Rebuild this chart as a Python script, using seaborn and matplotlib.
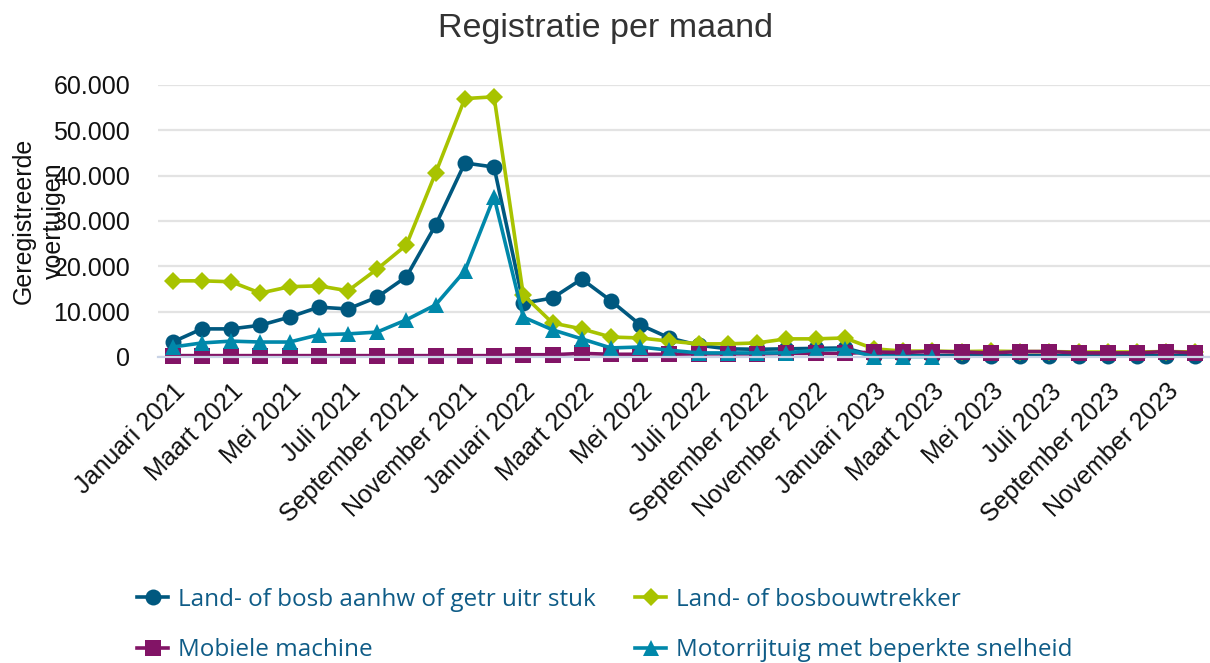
import numpy as np
import pandas as pd
import matplotlib
matplotlib.use("Agg")
import matplotlib.pyplot as plt
import matplotlib.ticker as mticker
import seaborn as sns

maanden = ["Januari", "Februari", "Maart", "April", "Mei", "Juni", "Juli",
           "Augustus", "September", "Oktober", "November", "December"]
jaren = [2021, 2022, 2023]
periodes = [f"{m} {j}" for j in jaren for m in maanden]

aanhw = [3300, 6200, 6200, 7000, 8800, 11000, 10600, 13200, 17700, 29100, 42800, 41900,
         11900, 13000, 17200, 12400, 7100, 4200, 2600, 1800, 1700, 1800, 1900, 2000,
         300, 300, 300, 300, 300, 300, 300, 300, 300, 300, 300, 300]
trekker = [16800, 16800, 16600, 14100, 15500, 15700, 14600, 19400, 24700, 40600, 57000, 57400,
           13700, 7500, 6200, 4400, 4200, 3500, 2900, 2900, 3100, 4000, 4000, 4200,
           1800, 1300, 1300, 1200, 1300, 1200, 1200, 1100, 1100, 1100, 1200, 1100]
mobiel = [300, 300, 300, 300, 300, 300, 300, 300, 300, 300, 300, 300,
          500, 500, 800, 600, 600, 600, 700, 700, 700, 800, 800, 800,
          1100, 1000, 1200, 1100, 900, 1200, 1200, 900, 900, 900, 1200, 900]
motor = [2200, 3100, 3500, 3300, 3300, 4900, 5100, 5500, 8200, 11500, 19000, 35300,
         8800, 6000, 4000, 2000, 2200, 1500, 900, 900, 900, 900, 1500, 1700,
         100, 100, 100, np.nan, np.nan, np.nan, np.nan, np.nan, np.nan, np.nan, np.nan, np.nan]

reeksen = ["Land- of bosb aanhw of getr uitr stuk", "Land- of bosbouwtrekker",
           "Mobiele machine", "Motorrijtuig met beperkte snelheid"]
kleuren = ["#00587F", "#A8C300", "#821466", "#0088AA"]
markers = ["o", "D", "s", "^"]
marker_sizes = [11.5, 9.5, 11, 11.5]

df = pd.DataFrame({
    "periode": periodes * 4,
    "idx": list(range(36)) * 4,
    "reeks": np.repeat(reeksen, 36),
    "aantal": aanhw + trekker + mobiel + motor,
})

fig = plt.figure(figsize=(12.1, 6.63), dpi=100)
ax = fig.add_axes([158 / 1210, 1 - 357 / 663, (1210 - 158) / 1210, (357 - 85) / 663])

sns.lineplot(data=df, x="idx", y="aantal", hue="reeks", style="reeks",
             hue_order=reeksen, style_order=reeksen,
             palette=kleuren, markers=markers, dashes=False,
             linewidth=2.6, markersize=11, markeredgewidth=0,
             ax=ax, clip_on=False, legend=True)
for line, ms in zip(ax.lines[:4], marker_sizes):
    line.set_markersize(ms)

ax.set_xlim(-0.5, 35.5)
ax.set_ylim(0, 60000)
ax.set_yticks(range(0, 60001, 10000))
ax.yaxis.set_major_formatter(mticker.FuncFormatter(lambda v, p: f"{int(v):,}".replace(",", ".")))
ax.set_xticks(range(0, 36, 2))
ax.set_xticklabels(periodes[::2], rotation=45, ha="right", rotation_mode="anchor")
ax.tick_params(axis="both", length=0, labelsize=18, labelcolor="#111111")
ax.tick_params(axis="y", pad=20)
ax.tick_params(axis="x", pad=16)
for lab in ax.get_xticklabels() + ax.get_yticklabels():
    lab.set_fontfamily("Liberation Sans")
ax.grid(axis="y", color="#e3e3e3", linewidth=1.6)
ax.set_axisbelow(True)
for s in ["top", "right", "left"]:
    ax.spines[s].set_visible(False)
ax.spines["bottom"].set_color("#c9d3e6")
ax.spines["bottom"].set_linewidth(1.6)
ax.set_xlabel("")
ax.set_ylabel("")

fig.text(39 / 1210, 1 - 221 / 663, "Geregistreerde\nvoertuigen", rotation=90,
         ha="center", va="center", multialignment="center", linespacing=1.35,
         fontsize=18, family="Liberation Sans", color="#111111")
fig.text(0.5, 1 - 29 / 663, "Registratie per maand", ha="center", va="center",
         fontsize=24.5, family="Liberation Sans", color="#333333")

handles, labels = ax.get_legend_handles_labels()
ax.get_legend().remove()
for h, ms in zip(handles, marker_sizes):
    h.set_markersize(ms)
volgorde = [0, 2, 1, 3]
leg = fig.legend([handles[i] for i in volgorde], [labels[i] for i in volgorde],
                 ncol=2, loc="center left", bbox_to_anchor=(115 / 1210, 1 - 625 / 663),
                 frameon=False, handlelength=1.3, handletextpad=0.4,
                 columnspacing=1.6, labelspacing=1.1,
                 prop={"family": "Open Sans", "size": 17.5})
for t in leg.get_texts():
    t.set_color("#0F5C87")

fig.savefig("out.png", dpi=100)
